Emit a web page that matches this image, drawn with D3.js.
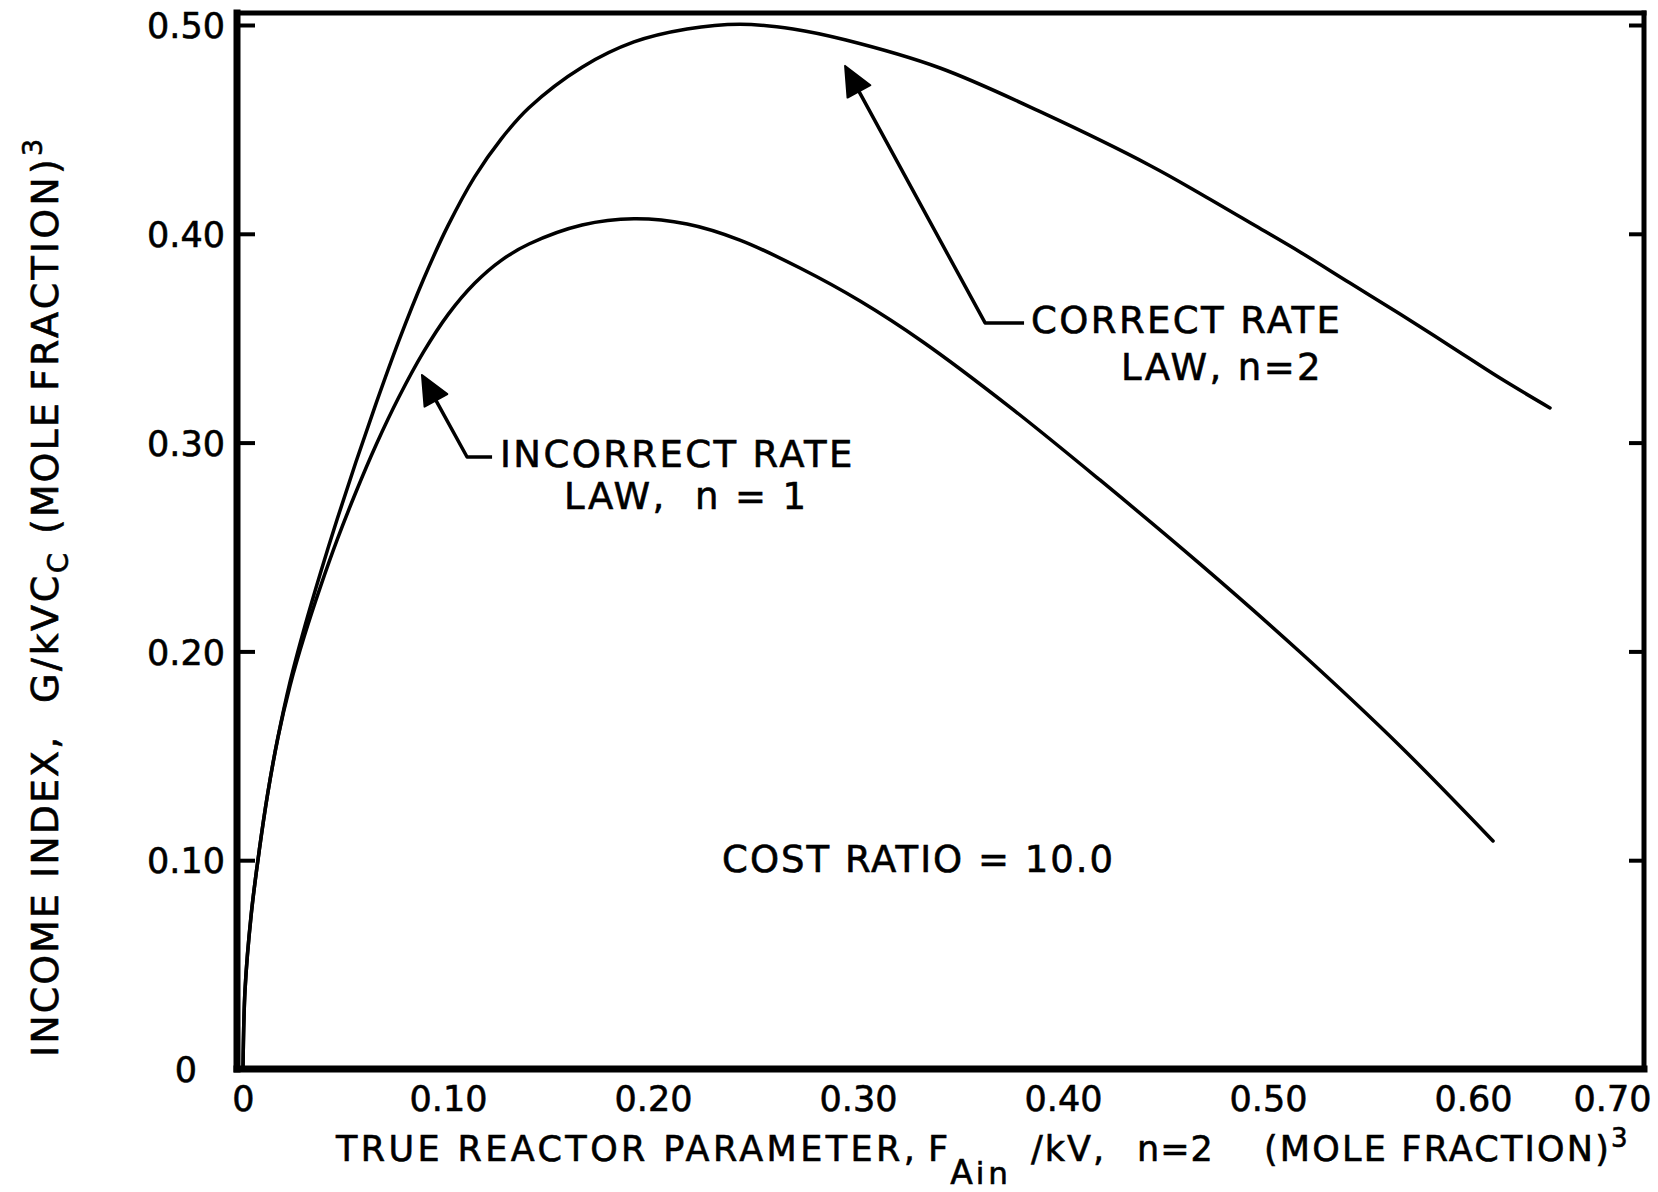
<!DOCTYPE html>
<html>
<head>
<meta charset="utf-8">
<script src="https://cdn.jsdelivr.net/npm/d3@7"></script>
<style>
  body { margin: 0; background: #fff; }
  svg text { fill: #000; stroke: #000; stroke-width: 0.6px; font-family: "DejaVu Sans", sans-serif; }
</style>
</head>
<body>
<svg id="chart" width="1658" height="1192"></svg>
<script>
// ---- data ----------------------------------------------------------------
const xTickValues = [0, 0.10, 0.20, 0.30, 0.40, 0.50, 0.60, 0.70];
const xTickLabels = ["0", "0.10", "0.20", "0.30", "0.40", "0.50", "0.60", "0.70"];
const yTickValues = [0, 0.10, 0.20, 0.30, 0.40, 0.50];
const yTickLabels = ["0", "0.10", "0.20", "0.30", "0.40", "0.50"];

// correct rate law, n = 2
const correctX = [0, 0.001, 0.004, 0.008, 0.012, 0.017, 0.023, 0.030, 0.038, 0.046,
  0.055, 0.065, 0.076, 0.088, 0.100, 0.113, 0.126, 0.1395, 0.1654, 0.1907,
  0.2166, 0.2424, 0.2683, 0.2941, 0.3400, 0.3912, 0.4429, 0.4683, 0.4941, 0.5156,
  0.5400, 0.5644, 0.5888, 0.6194, 0.6554];
const correctY = [0, 0.038, 0.074, 0.1052, 0.1316, 0.1586, 0.1856, 0.2115, 0.2383, 0.2635,
  0.2905, 0.3190, 0.3487, 0.3781, 0.4039, 0.4273, 0.4455, 0.4604, 0.4798, 0.4919,
  0.4981, 0.5004, 0.4981, 0.4928, 0.4794, 0.4574, 0.4325, 0.4185, 0.4037, 0.3913,
  0.3764, 0.3616, 0.3463, 0.3309, 0.3166];

// incorrect rate law, n = 1
const incorrectX = [0, 0.001, 0.004, 0.008, 0.012, 0.017, 0.023, 0.030, 0.038, 0.046,
  0.055, 0.065, 0.076, 0.088, 0.100, 0.113, 0.126, 0.1395, 0.1654, 0.1907,
  0.2166, 0.2424, 0.2717, 0.3010, 0.3317, 0.3741, 0.4180, 0.4668, 0.5156, 0.5644,
  0.6144];
const incorrectY = [0, 0.038, 0.074, 0.1052, 0.1316, 0.1586, 0.1838, 0.2076, 0.2316, 0.2536,
  0.2761, 0.2991, 0.3217, 0.3433, 0.3613, 0.3763, 0.3873, 0.3951, 0.4042, 0.4072,
  0.4047, 0.3970, 0.3836, 0.3678, 0.3482, 0.3170, 0.2821, 0.2419, 0.1997, 0.1547,
  0.1092];

const curveLabels = [["CORRECT RATE", "LAW, n=2"], ["INCORRECT RATE", "LAW,  n = 1"]];
const costLabel = "COST RATIO = 10.0";

// ---- layout ----------------------------------------------------------------
const frame = { left: 237, right: 1644, top: 13, bottom: 1069 };
const svg = d3.select("#chart");

const x = d3.scaleLinear()
  .domain([0, 0.60, 0.70])
  .range([frame.left + 6, 1473, 1612]);
const y = d3.scaleLinear()
  .domain([0, 0.50])
  .range([frame.bottom, 25]);

// callout anchors in data units: arrow tip, elbow, end of hook, text starts
const callouts = [
  { tip: [0.2937, 0.4804], elbow: [0.3620, 0.3573], hookEnd: 0.3810,
    line1: [0.3844, 0.3525], line2: [0.4283, 0.3300] },
  { tip: [0.0873, 0.3324], elbow: [0.1093, 0.2931], hookEnd: 0.1215,
    line1: [0.1254, 0.2883], line2: [0.1566, 0.2680] }
];
const costAnchor = [0.2337, 0.0943];

// ---- frame: heavier left and bottom edges -----------------------------------
const edges = [
  { x1: frame.left, y1: frame.top, x2: frame.right, y2: frame.top, w: 5 },
  { x1: frame.right, y1: frame.top, x2: frame.right, y2: frame.bottom, w: 5 },
  { x1: frame.left, y1: frame.bottom, x2: frame.right, y2: frame.bottom, w: 7 },
  { x1: frame.left, y1: frame.top, x2: frame.left, y2: frame.bottom, w: 7 }
];
svg.append("g").selectAll("line")
  .data(edges)
  .join("line")
  .attr("x1", d => d.x1).attr("y1", d => d.y1)
  .attr("x2", d => d.x2).attr("y2", d => d.y2)
  .attr("stroke", "#000").attr("stroke-width", d => d.w)
  .attr("stroke-linecap", "square");

// ---- y axis: inward ticks on both sides, centred labels on the left ----------
const yAxisL = svg.append("g")
  .attr("transform", `translate(${frame.left},0)`)
  .call(d3.axisLeft(y).tickValues(yTickValues)
    .tickFormat((d, i) => yTickLabels[i])
    .tickSize(-18).tickPadding(51));
yAxisL.select(".domain").remove();
yAxisL.selectAll(".tick line").attr("stroke", "#000").attr("stroke-width", 4);
yAxisL.selectAll(".tick text")
  .attr("text-anchor", "middle")
  .attr("dy", "0.36em")
  .style("font-family", "'DejaVu Sans', sans-serif")
  .style("font-size", "35px");

const yAxisR = svg.append("g")
  .attr("transform", `translate(${frame.right},0)`)
  .call(d3.axisRight(y).tickValues(yTickValues.filter(v => v > 0))
    .tickFormat("").tickSize(-15));
yAxisR.select(".domain").remove();
yAxisR.selectAll(".tick line").attr("stroke", "#000").attr("stroke-width", 4);

// ---- x axis: labels only -------------------------------------------------------
const xAxis = svg.append("g")
  .attr("transform", `translate(0,${frame.bottom})`)
  .call(d3.axisBottom(x).tickValues(xTickValues)
    .tickFormat((d, i) => xTickLabels[i])
    .tickSize(0).tickPadding(17));
xAxis.select(".domain").remove();
xAxis.selectAll(".tick text")
  .style("font-family", "'DejaVu Sans', sans-serif")
  .style("font-size", "35px");

// ---- curves --------------------------------------------------------------------
const line = d3.line()
  .x(d => x(d[0])).y(d => y(d[1]))
  .curve(d3.curveCatmullRom.alpha(0.5));

const series = [d3.zip(correctX, correctY), d3.zip(incorrectX, incorrectY)];
svg.append("g").selectAll("path")
  .data(series)
  .join("path")
  .attr("d", line)
  .attr("fill", "none")
  .attr("stroke", "#000")
  .attr("stroke-width", 3.5)
  .attr("stroke-linejoin", "round")
  .attr("stroke-linecap", "round");

// ---- callouts ------------------------------------------------------------------
const cg = svg.append("g");
callouts.forEach((c, i) => {
  const tx = x(c.tip[0]), ty = y(c.tip[1]);
  const ex = x(c.elbow[0]), ey = y(c.elbow[1]);
  const hx = x(c.hookEnd);
  const ang = Math.atan2(ey - ty, ex - tx);
  const len = 29, half = 13;
  const bx = tx + len * Math.cos(ang), by = ty + len * Math.sin(ang);
  cg.append("path")
    .attr("d", `M${hx},${ey}L${ex},${ey}L${bx},${by}`)
    .attr("fill", "none").attr("stroke", "#000").attr("stroke-width", 3.5)
    .attr("stroke-linejoin", "round");
  const px = -Math.sin(ang), py = Math.cos(ang);
  cg.append("path")
    .attr("d", `M${tx},${ty}L${bx + half * px},${by + half * py}L${bx - half * px},${by - half * py}Z`)
    .attr("fill", "#000").attr("stroke", "#000").attr("stroke-width", 2)
    .attr("stroke-linejoin", "round");
  [c.line1, c.line2].forEach((p, k) => {
    cg.append("text")
      .attr("x", x(p[0])).attr("y", y(p[1]))
      .style("font-size", "37px")
      .style("letter-spacing", "2.4px")
      .style("white-space", "pre")
      .text(curveLabels[i][k]);
  });
});

svg.append("text")
  .attr("x", x(costAnchor[0])).attr("y", y(costAnchor[1]))
  .style("font-size", "37px")
  .style("letter-spacing", "2px")
  .style("white-space", "pre")
  .text(costLabel);

// ---- axis titles -----------------------------------------------------------------
const xt = svg.append("text")
  .attr("y", 1161)
  .style("font-size", "35px")
  .style("white-space", "pre");
xt.append("tspan").attr("x", 336).style("letter-spacing", "3.4px")
  .text("TRUE REACTOR PARAMETER,");
xt.append("tspan").attr("x", 928).style("letter-spacing", "2px").text("F");
xt.append("tspan").attr("dy", 23).style("font-size", "33px").style("letter-spacing", "3px").text("A");
xt.append("tspan").style("font-size", "31px").style("letter-spacing", "4px").text("in");
xt.append("tspan").attr("x", 1031).attr("dy", -23).style("letter-spacing", "2px").text("/kV,");
xt.append("tspan").attr("x", 1137).style("letter-spacing", "1px").text("n=2");
xt.append("tspan").attr("x", 1264).style("letter-spacing", "2.2px").text("(MOLE FRACTION)");
xt.append("tspan").attr("dy", -14).style("font-size", "26px").text("3");

// rotated: along-text x is minus the page y
const yt = svg.append("text")
  .attr("transform", "translate(58,0) rotate(-90)")
  .style("font-size", "38px")
  .style("letter-spacing", "2px")
  .style("white-space", "pre");
yt.append("tspan").attr("x", -1057).text("INCOME");
yt.append("tspan").attr("x", -878).text("INDEX,");
yt.append("tspan").attr("x", -703).style("letter-spacing", "2.6px").text("G/kVC");
yt.append("tspan").attr("dy", 10).style("font-size", "29px").text("C");
yt.append("tspan").attr("x", -534).attr("dy", -10).text("(MOLE");
yt.append("tspan").attr("x", -391).style("letter-spacing", "3.2px").text("FRACTION)");
yt.append("tspan").attr("dy", -16).style("font-size", "27px").text("3");
</script>
</body>
</html>
